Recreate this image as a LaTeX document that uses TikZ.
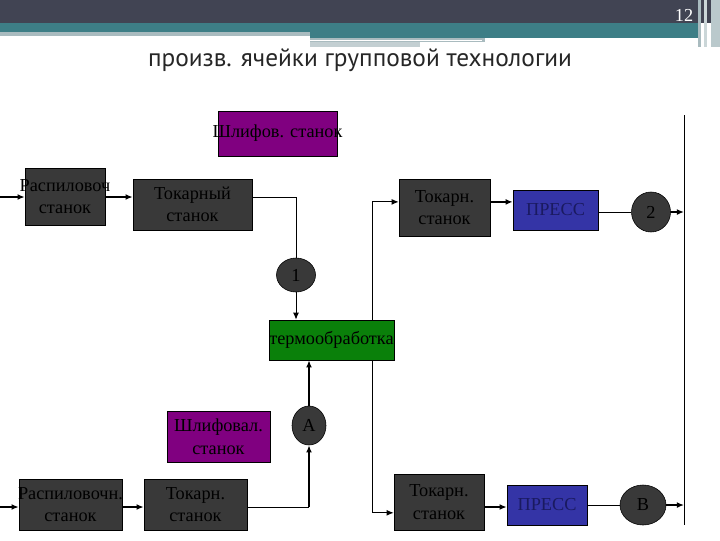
\documentclass[tikz,border=0pt]{standalone}
\usepackage{fontspec}
\setmainfont{Liberation Serif}
\newfontfamily\titlefont{PT Sans}
\usetikzlibrary{arrows.meta,shapes.geometric}
\definecolor{HdDark}{HTML}{414453}
\definecolor{HdTeal}{HTML}{3D7E86}
\definecolor{HdLight}{HTML}{A9BBBF}
\definecolor{StGrey}{HTML}{393939}
\definecolor{StPurple}{HTML}{800080}
\definecolor{StBlue}{HTML}{3434A6}
\definecolor{StGreen}{HTML}{0A800A}
\definecolor{StNavy}{HTML}{1A1A60}

\tikzset{
  stanok/.style={draw=black,fill=StGrey,text=black,rectangle,inner sep=1pt,align=center,
    font=\fontsize{13}{16}\selectfont},
  krug/.style={draw=black,fill=StGrey,text=black,ellipse,inner sep=0pt,
    font=\fontsize{13}{16}\selectfont},
  flow/.style={-{Latex[length=1.8mm,width=1.5mm]},line width=1.1pt},
  wire/.style={line width=0.7pt}
}

\begin{document}
\begin{tikzpicture}[x=0.025cm,y=-0.025cm]
\path[use as bounding box] (0,0) rectangle (720,540);
% header
\fill[HdDark] (0,0) rectangle (720,23);
\fill[HdTeal] (0,23) rectangle (700,32);
\fill[HdLight] (0,32) rectangle (310,36);
\fill[HdTeal] (310,32) rectangle (700,38);
\fill[HdLight] (310,38) rectangle (485,42);
\fill[white] (310,39.5) rectangle (482,41);
\fill[HdLight!70] (310,42) rectangle (420,47);
\fill[HdLight] (698,0) rectangle (701,47);
\fill[HdLight!60] (704,0) rectangle (707,47);
\fill[HdLight!80] (711,0) rectangle (720,47);
\node[text=white,font=\fontsize{13}{15}\selectfont] (nomer) at (684,15) {12};
\node[text=black!85,font=\titlefont\fontsize{18}{22}\selectfont] (titul) at (360,60)
  {произв. ячейки групповой технологии};

% stanki
\node[stanok,fill=StPurple,minimum width=2.975cm,minimum height=1.125cm] (shlif1) at (277.5,133.5)
  {\makebox[0pt]{Шлифов. станок}};
\node[stanok,minimum width=2cm,minimum height=1.425cm] (raspil1) at (65,196.5)
  {\makebox[0pt]{Распиловоч}\\станок};
\node[stanok,minimum width=2.975cm,minimum height=1.275cm] (tokar1) at (192.5,204.5)
  {Токарный\\станок};
\node[stanok,minimum width=2.275cm,minimum height=1.425cm] (tokar2) at (444.5,207.5)
  {Токарн.\\станок};
\node[stanok,fill=StBlue,text=StNavy,minimum width=2.125cm,minimum height=1cm] (press1) at (555.5,210)
  {ПРЕСС};
\node[krug,minimum width=0.975cm,minimum height=1cm] (c2) at (651,212) {2};
\node[krug,minimum width=0.975cm,minimum height=0.85cm] (c1) at (296,275) {1};
\node[stanok,fill=StGreen,minimum width=3.125cm,minimum height=1cm] (termo) at (331.5,340)
  {\makebox[0pt]{термообработка}};
\node[stanok,fill=StPurple,minimum width=2.575cm,minimum height=1.275cm] (shlif2) at (218.5,436.5)
  {Шлифовал.\\станок};
\node[krug,minimum width=0.85cm,minimum height=0.975cm] (cA) at (309,425.5) {А};
\node[stanok,minimum width=2.575cm,minimum height=1.275cm] (raspil2) at (70.5,504.5)
  {\makebox[0pt]{Распиловочн.}\\станок};
\node[stanok,minimum width=2.575cm,minimum height=1.275cm] (tokar3) at (195.5,504.5)
  {Токарн.\\станок};
\node[stanok,minimum width=2.25cm,minimum height=1.4cm] (tokar4) at (439,502)
  {Токарн.\\станок};
\node[stanok,fill=StBlue,text=StNavy,minimum width=2cm,minimum height=1cm] (press2) at (547,505)
  {ПРЕСС};
\node[krug,minimum width=1.15cm,minimum height=1cm] (cB) at (643,505) {В};

\coordinate (in1) at (0,197);
\coordinate (in2) at (0,507);
\coordinate (split) at (372,340);
\coordinate (rtop) at (684,115);
\coordinate (rbot) at (684,525);

% verkhnyaya liniya
\draw[flow] (in1) -- (in1 -| raspil1.west);
\draw[flow] (raspil1.east |- in1) -- (in1 -| tokar1.west);
\draw[wire] (tokar1.east |- in1) -| (c1.north);
\draw[wire,-{Latex[length=1.8mm,width=1.5mm]}] (c1.south) -- (c1.south |- termo.north);
\draw[wire,-{Latex[length=1.8mm,width=1.5mm]}] (split |- termo.north) |- ([yshift=0.14cm]tokar2.west);
\draw[flow] ([yshift=0.14cm]tokar2.east) -- ([yshift=0.14cm]tokar2.east -| press1.west);
\draw[wire] (press1.east |- c2) -- (c2.west);
\draw[flow] (c2.east) -- (c2.east -| rtop);
\draw[wire] (rtop) -- (rbot);

% nizhnyaya liniya
\draw[flow] (in2) -- (in2 -| raspil2.west);
\draw[flow] (raspil2.east |- in2) -- (in2 -| tokar3.west);
\draw[wire] (tokar3.east |- in2) -- (in2 -| cA);
\draw[flow] (in2 -| cA) -- (cA.south);
\draw[flow] (cA.north) -- (cA.north |- termo.south);
\draw[wire,-{Latex[length=1.8mm,width=1.5mm]}] (split |- termo.south) |- ([yshift=-0.27cm]tokar4.west);
\draw[flow] (tokar4.east |- in2) -- (in2 -| press2.west);
\draw[wire] (press2.east |- cB) -- (cB.west);
\draw[flow] (cB.east) -- (cB.east -| rbot);
\end{tikzpicture}
\end{document}
